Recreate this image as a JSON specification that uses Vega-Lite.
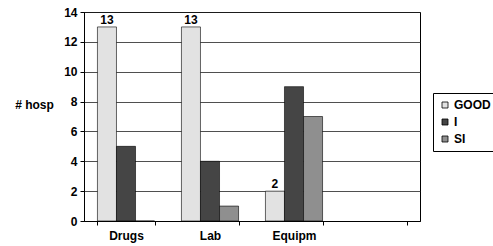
{
  "$schema": "https://vega.github.io/schema/vega-lite/v6.json",
  "autosize": "none",
  "width": 336,
  "height": 209,
  "padding": {"left": 84, "top": 12, "right": 73, "bottom": 25},
  "background": "white",
  "config": {
    "font": "Liberation Sans",
    "view": {"stroke": "#000000", "strokeWidth": 1},
    "axis": {"labelFont": "Liberation Sans", "labelFontWeight": "bold", "labelColor": "#000", "titleFont": "Liberation Sans", "titleFontWeight": "bold", "titleColor": "#000"}
  },
  "data": {
    "values": [
      {"cat": "Drugs", "series": "GOOD", "value": 13},
      {"cat": "Drugs", "series": "I", "value": 5},
      {"cat": "Drugs", "series": "SI", "value": 0},
      {"cat": "Lab", "series": "GOOD", "value": 13},
      {"cat": "Lab", "series": "I", "value": 4},
      {"cat": "Lab", "series": "SI", "value": 1},
      {"cat": "Equipm", "series": "GOOD", "value": 2},
      {"cat": "Equipm", "series": "I", "value": 9},
      {"cat": "Equipm", "series": "SI", "value": 7}
    ]
  },
  "encoding": {
    "x": {
      "field": "cat", "type": "nominal",
      "scale": {"domain": ["Drugs", "Lab", "Equipm", " "], "paddingInner": 0.32, "paddingOuter": 0.16},
      "axis": {"title": null, "labelAngle": 0, "labelFontSize": 12, "labelPadding": 5, "domainColor": "#000", "tickColor": "#000", "tickBand": "extent", "tickSize": 4}
    },
    "y": {
      "field": "value", "type": "quantitative",
      "scale": {"domain": [0, 14]},
      "axis": {"values": [0, 2, 4, 6, 8, 10, 12, 14], "title": "# hosp", "titleAngle": 0, "titleFontSize": 12, "titleX": -50, "titleY": 99, "titleAlign": "center", "labelFontSize": 12, "labelPadding": 3, "domainColor": "#000", "tickColor": "#000", "tickSize": 4, "gridColor": "#222", "gridWidth": 0.8}
    }
  },
  "layer": [
    {
      "mark": {"type": "bar", "stroke": "#000", "strokeWidth": 0.6},
      "encoding": {
        "xOffset": {"field": "series", "type": "nominal", "scale": {"domain": ["GOOD", "I", "SI"], "paddingInner": 0, "paddingOuter": 0}},
        "color": {
          "field": "series", "type": "nominal",
          "scale": {"domain": ["GOOD", "I", "SI"], "range": ["#e2e2e2", "#454545", "#8f8f8f"]},
          "legend": {"title": null, "orient": "none", "legendX": 349, "legendY": 81, "strokeColor": "#000", "padding": 6, "symbolType": "square", "symbolSize": 36, "symbolStrokeColor": "#000", "symbolStrokeWidth": 0.8, "labelFontSize": 12, "labelFontWeight": "bold", "labelFont": "Liberation Sans", "labelColor": "#000", "rowPadding": 5, "labelOffset": 3}
        }
      }
    },
    {
      "transform": [{"filter": "datum.series === 'GOOD'"}],
      "mark": {"type": "text", "dy": -7, "fontSize": 12, "fontWeight": "bold", "font": "Liberation Sans", "color": "#000"},
      "encoding": {
        "xOffset": {"field": "series", "type": "nominal", "scale": {"domain": ["GOOD", "I", "SI"]}},
        "text": {"field": "value", "type": "quantitative"}
      }
    }
  ]
}
